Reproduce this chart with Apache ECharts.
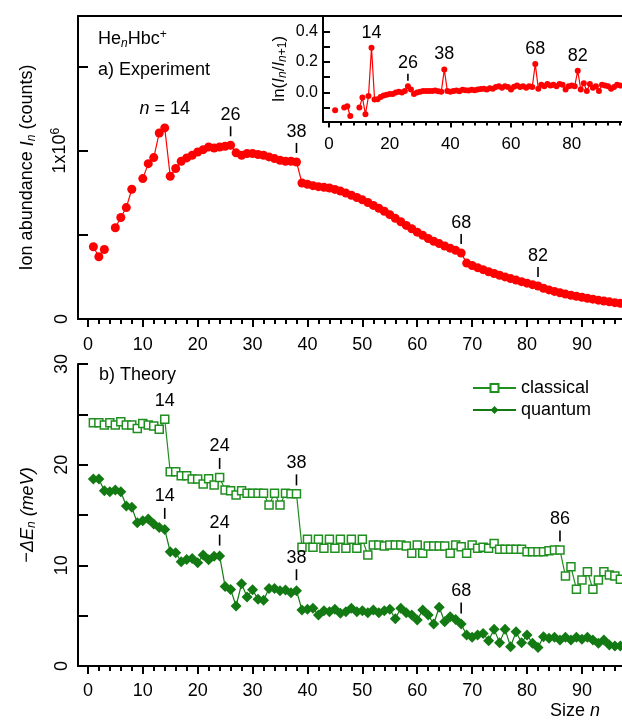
<!DOCTYPE html>
<html><head><meta charset="utf-8">
<script src="https://cdn.jsdelivr.net/npm/echarts@6/dist/echarts.min.js"></script>
<style>html,body{margin:0;padding:0;background:#fff}#c{width:622px;height:720px}</style>
</head><body><div id="c"></div>
<script>
const FONT = "'Liberation Sans', Arial, Helvetica, sans-serif";

// cluster size n (1..97)
const sizes = [1,2,3,4,5,6,7,8,9,10,11,12,13,14,15,16,17,18,19,20,21,22,23,24,25,26,27,28,29,30,31,32,33,34,35,36,37,38,39,40,41,42,43,44,45,46,47,48,49,50,51,52,53,54,55,56,57,58,59,60,61,62,63,64,65,66,67,68,69,70,71,72,73,74,75,76,77,78,79,80,81,82,83,84,85,86,87,88,89,90,91,92,93,94,95,96,97];

// a) ion abundance I_n, in units of 1e6 counts (null = not measured)
const abundance = [0.429,0.370,0.413,null,0.542,0.603,0.662,0.771,null,0.834,
 0.923,0.959,1.105,1.135,0.848,0.894,0.937,0.957,0.973,0.992,
 1.006,1.022,1.016,1.022,1.026,1.032,0.987,0.973,0.983,0.983,
 0.977,0.973,0.963,0.953,0.943,0.937,0.937,0.933,0.808,0.800,
 0.792,0.786,0.782,0.778,0.770,0.760,0.748,0.735,0.722,0.708,
 0.692,0.675,0.658,0.640,0.620,0.598,0.578,0.556,0.536,0.516,
 0.497,0.478,0.462,0.448,0.434,0.421,0.408,0.392,0.332,0.318,
 0.305,0.293,0.281,0.270,0.260,0.250,0.240,0.231,0.222,0.213,
 0.204,0.196,0.183,0.173,0.164,0.156,0.148,0.141,0.135,0.129,
 0.123,0.118,0.112,0.107,0.102,0.097,0.093];

// inset: ln(I_n / I_{n+1})
const lnRatio = [null,-0.116,null,null,-0.099,-0.090,-0.154,null,null,-0.099,
 -0.033,-0.143,-0.024,0.293,-0.046,-0.044,-0.030,-0.020,-0.015,-0.010,
 -0.010,0.000,0.005,0.000,0.010,0.040,0.020,-0.010,0.000,0.005,
 0.010,0.010,0.010,0.010,0.012,0.008,0.004,0.150,0.010,0.005,
 0.010,0.012,0.008,0.018,0.015,0.012,0.018,0.015,0.020,0.022,
 0.025,0.020,0.028,0.025,0.035,0.040,0.030,0.040,0.035,0.020,
 0.038,0.045,0.035,0.040,0.030,0.040,0.035,0.186,0.025,0.050,
 0.040,0.055,0.045,0.050,0.040,0.055,0.050,0.020,0.040,0.045,
 0.040,0.142,0.020,0.060,0.010,0.055,0.030,0.040,0.010,0.050,
 0.045,0.040,0.025,0.035,0.050,0.045,null];

// b) theory, -ΔE_n in meV
const classical = [24.16,24.16,23.93,24.16,23.93,24.26,23.93,23.93,23.60,24.10,
 23.93,23.83,23.53,24.50,19.30,19.30,18.90,18.90,18.57,18.57,
 18.07,18.60,17.97,18.73,17.48,17.40,16.98,17.40,17.15,17.15,
 17.15,17.15,15.99,17.15,15.99,17.15,17.10,17.10,11.79,12.58,
 11.79,12.58,11.69,12.58,11.69,12.58,11.69,12.58,11.69,12.58,
 11.02,12.02,12.02,11.92,12.02,12.02,12.02,11.92,11.19,12.02,
 11.19,11.92,11.92,11.92,11.92,11.19,12.02,11.85,11.19,12.02,
 11.69,11.79,11.69,12.18,11.59,11.59,11.59,11.59,11.59,11.35,
 11.35,11.35,11.35,11.45,11.52,11.52,8.94,9.86,7.62,8.54,
 9.37,7.62,8.54,9.37,9.04,8.94,8.61];

const quantum = [18.57,18.57,17.41,17.31,17.48,17.31,15.89,15.76,14.23,14.43,
 14.60,14.10,13.77,13.57,11.35,11.25,10.36,10.59,10.69,10.26,
 11.02,10.56,10.89,10.92,7.90,7.61,5.96,8.17,6.85,7.58,
 6.62,6.52,7.71,7.71,7.48,7.55,7.28,7.48,5.56,5.63,
 5.73,5.06,5.49,5.40,5.63,5.23,5.40,5.73,5.40,5.49,
 5.30,5.56,5.30,5.49,5.63,4.70,5.73,5.30,5.06,4.57,
 5.56,5.06,4.17,5.83,4.40,4.90,4.63,4.17,3.08,2.85,
 3.08,3.24,2.52,3.64,2.32,3.64,1.92,3.41,2.32,3.08,
 2.25,1.85,2.91,2.75,2.85,2.58,2.85,2.58,2.85,2.65,
 2.85,2.58,2.25,2.58,2.09,1.99,1.99];

// tick labels
const sizeTicksMajor = [0,10,20,30,40,50,60,70,80,90];
const sizeTicksMinor = [0,2,4,6,8,10,12,14,16,18,20,22,24,26,28,30,32,34,36,38,40,42,44,46,48,50,52,54,56,58,60,62,64,66,68,70,72,74,76,78,80,82,84,86,88,90,92,94,96];
const insetXMajor = [0,20,40,60,80];
const insetXMinor = [0,4,8,12,16,20,24,28,32,36,40,44,48,52,56,60,64,68,72,76,80,84,88,92,96];
const insetYTicks = [-0.1,0,0.1,0.2,0.3,0.4];
const insetYLabels = [0,0.2,0.4];
const abundTicks = [0,0.5,1,1.5];
const abundLabels = [0,1];

// magic-number annotations
const expMarks = [{n:14,text:'{i|n} = 14',tick:false},{n:26,text:'26',tick:true},{n:38,text:'38',tick:true},{n:68,text:'68',tick:true},{n:82,text:'82',tick:true}];
const ratioMarks = [{n:14,text:'14',tick:false},{n:26,text:'26',tick:true},{n:38,text:'38',tick:false},{n:68,text:'68',tick:false},{n:82,text:'82',tick:false}];
const classicalMarks = [{n:14,text:'14',tick:false},{n:24,text:'24',tick:true},{n:38,text:'38',tick:true},{n:86,text:'86',tick:true}];
const quantumMarks = [{n:14,text:'14',tick:true},{n:24,text:'24',tick:true},{n:38,text:'38',tick:true},{n:68,text:'68',tick:true}];

const RED = '#ff0000', GC = '#1f8f1f', GQ = '#137a13';
const richBase = {
  i: {fontStyle:'italic', fontSize:18, fontFamily:FONT, color:'#000'},
  t: {fontSize:18, fontFamily:FONT, color:'#000'},
  sub: {fontStyle:'italic', fontSize:12, fontFamily:FONT, color:'#000', padding:[9,0,0,0]},
  subr: {fontSize:12, fontFamily:FONT, color:'#000', padding:[9,0,0,0]},
  sup: {fontSize:12, fontFamily:FONT, color:'#000', padding:[0,0,9,0]}
};

function pairs(vals){ return sizes.map((n,i)=>[n, vals[i]===null ? '-' : vals[i]]); }
function marks(vals, list, o){
  const out = [];
  list.forEach(m=>{
    const v = vals[m.n-1];
    if (m.tick) out.push({coord:[m.n,v], symbol:'rect', symbolSize:[1.6,o.tl], symbolOffset:[0,-o.tm], itemStyle:{color:'#000'}, label:{show:false}});
    out.push({coord:[m.n,v], symbol:'rect', symbolSize:[1,1], itemStyle:{color:'rgba(0,0,0,0)'},
      label:{show:true, position:'inside', offset:[0, -(m.tick?o.lt:o.ln)], formatter:m.text, color:'#000', fontSize:18, fontFamily:FONT, rich:richBase}});
  });
  return {silent:true, animation:false, data:out};
}

const axLine = {show:true, onZero:false, lineStyle:{color:'#000', width:2}};
const lbl = {color:'#000', fontSize:18, fontFamily:FONT};

const option = {
  animation:false,
  backgroundColor:'#fff',
  grid:[
    {left:78, top:16, right:0, height:303},
    {left:323, top:16, right:0, height:105.5},
    {left:78, top:364, right:0, height:302}
  ],
  xAxis:[
    {type:'value', gridIndex:0, min:-1.8, max:97.3, position:'bottom', axisLine:axLine,
     axisTick:{show:true, inside:false, length:8, customValues:sizeTicksMajor, lineStyle:{color:'#000',width:2}},
     axisLabel:{show:true, margin:17, customValues:sizeTicksMajor, ...lbl}, splitLine:{show:false}},
    {type:'value', gridIndex:0, min:-1.8, max:97.3, position:'bottom', axisLine:{show:false, onZero:false},
     axisTick:{show:true, length:5, customValues:sizeTicksMinor, lineStyle:{color:'#000',width:2}},
     axisLabel:{show:false}, splitLine:{show:false}},
    {type:'value', gridIndex:0, min:-1.8, max:97.3, position:'top', axisLine:axLine,
     axisTick:{show:false}, axisLabel:{show:false}, splitLine:{show:false}},
    {type:'value', gridIndex:1, min:-2, max:96.6, position:'bottom', axisLine:axLine,
     axisTick:{show:true, length:6, customValues:insetXMajor, lineStyle:{color:'#000',width:2}},
     axisLabel:{show:true, margin:14, customValues:insetXMajor, ...lbl, fontSize:17}, splitLine:{show:false}},
    {type:'value', gridIndex:1, min:-2, max:96.6, position:'bottom', axisLine:{show:false, onZero:false},
     axisTick:{show:true, length:4, customValues:insetXMinor, lineStyle:{color:'#000',width:2}},
     axisLabel:{show:false}, splitLine:{show:false}},
    {type:'value', gridIndex:2, min:-1.8, max:97.3, position:'bottom', axisLine:axLine,
     axisTick:{show:true, length:8, customValues:sizeTicksMajor, lineStyle:{color:'#000',width:2}},
     axisLabel:{show:true, margin:16, customValues:sizeTicksMajor, ...lbl}, splitLine:{show:false}},
    {type:'value', gridIndex:2, min:-1.8, max:97.3, position:'bottom', axisLine:{show:false, onZero:false},
     axisTick:{show:true, length:5, customValues:sizeTicksMinor, lineStyle:{color:'#000',width:2}},
     axisLabel:{show:false}, splitLine:{show:false}}
  ],
  yAxis:[
    {type:'value', gridIndex:0, min:0, max:1.8, axisLine:axLine,
     axisTick:{show:true, inside:true, length:10, customValues:abundTicks, lineStyle:{color:'#000',width:2}},
     axisLabel:{show:true, rotate:90, margin:7, customValues:abundLabels, ...lbl,
       formatter:v=> v===0 ? '0' : '1x10{sup|6}', rich:richBase},
     splitLine:{show:false},
     name:'{t|Ion abundance }{i|I}{sub|n}{t| (counts)}', nameLocation:'middle', nameGap:40, nameRotate:90,
     nameTextStyle:{...lbl, rich:richBase}},
    {type:'value', gridIndex:1, min:-0.19, max:0.5, axisLine:axLine,
     axisTick:{show:true, inside:true, length:7, customValues:insetYTicks, lineStyle:{color:'#000',width:2}},
     axisLabel:{show:true, margin:5, customValues:insetYLabels, ...lbl, fontSize:16, formatter:v=>v.toFixed(1)},
     splitLine:{show:false},
     name:'{t|ln(}{i|I}{sub|n}{t|/}{i|I}{sub|n}{subr|+1}{t|)}', nameLocation:'middle', nameGap:34, nameRotate:90,
     nameTextStyle:{...lbl, rich:{t:{fontSize:17,fontFamily:FONT,color:'#000'}, i:{fontSize:17,fontStyle:'italic',fontFamily:FONT,color:'#000'},
       sub:{fontSize:12,fontStyle:'italic',fontFamily:FONT,color:'#000',padding:[8,0,0,0]}, subr:{fontSize:12,fontFamily:FONT,color:'#000',padding:[8,0,0,0]}}}},
    {type:'value', gridIndex:2, min:0, max:30, interval:5, axisLine:axLine,
     axisTick:{show:true, inside:true, length:10, lineStyle:{color:'#000',width:2}},
     axisLabel:{show:true, rotate:90, margin:7, ...lbl, formatter:v=> (v%10===0 ? String(v) : '')},
     splitLine:{show:false},
     name:'{t|\u2212}{i|\u0394E}{sub|n}{i| (meV)}', nameLocation:'middle', nameGap:40, nameRotate:90,
     nameTextStyle:{...lbl, rich:richBase}}
  ],
  legend:{
    data:['classical','quantum'], orient:'vertical', left:472, top:379, itemWidth:43, itemHeight:10, itemGap:4, padding:0,
    textStyle:{color:'#000', fontSize:18, fontFamily:FONT}
  },
  graphic:[
    {type:'text', x:98, y:39, style:{text:'He{sub|n}Hbc{sup|+}', rich:richBase, fontSize:18, fontFamily:FONT, fill:'#000', verticalAlign:'middle'}},
    {type:'text', x:98, y:70, style:{text:'a) Experiment', fontSize:18, fontFamily:FONT, fill:'#000', verticalAlign:'middle'}},
    {type:'text', x:99, y:375, style:{text:'b) Theory', fontSize:18, fontFamily:FONT, fill:'#000', verticalAlign:'middle'}},
    {type:'text', x:600, y:711, style:{text:'{t|Size }{i|n}', rich:richBase, fontSize:18, fontFamily:FONT, fill:'#000', align:'right', verticalAlign:'middle'}}
  ],
  series:[
    {type:'line', name:'experiment', xAxisIndex:0, yAxisIndex:0, data:pairs(abundance), symbol:'circle', symbolSize:9,
     itemStyle:{color:RED}, lineStyle:{color:RED, width:1.2}, connectNulls:false, z:3,
     markPoint:marks(abundance, expMarks, {tl:10, tm:14, lt:30, ln:19})},
    {type:'line', name:'ratio', xAxisIndex:3, yAxisIndex:1, data:pairs(lnRatio), symbol:'circle', symbolSize:6,
     itemStyle:{color:RED}, lineStyle:{color:RED, width:1.2}, connectNulls:false,
     markPoint:marks(lnRatio, ratioMarks, {tl:7, tm:9, lt:23, ln:15})},
    {type:'line', name:'classical', xAxisIndex:5, yAxisIndex:2, data:pairs(classical), symbol:'rect', symbolSize:8,
     itemStyle:{color:'#fff', borderColor:GC, borderWidth:1.5}, lineStyle:{color:GC, width:1.2},
     markPoint:marks(classical, classicalMarks, {tl:11, tm:14, lt:31, ln:18})},
    {type:'line', name:'quantum', xAxisIndex:5, yAxisIndex:2, data:pairs(quantum), symbol:'diamond', symbolSize:11,
     itemStyle:{color:GQ}, lineStyle:{color:GQ, width:1.2},
     markPoint:marks(quantum, quantumMarks, {tl:11, tm:16, lt:33, ln:18})}
  ]
};
const chart = echarts.init(document.getElementById('c'), null, {renderer:'canvas'});
chart.setOption(option);
</script></body></html>
